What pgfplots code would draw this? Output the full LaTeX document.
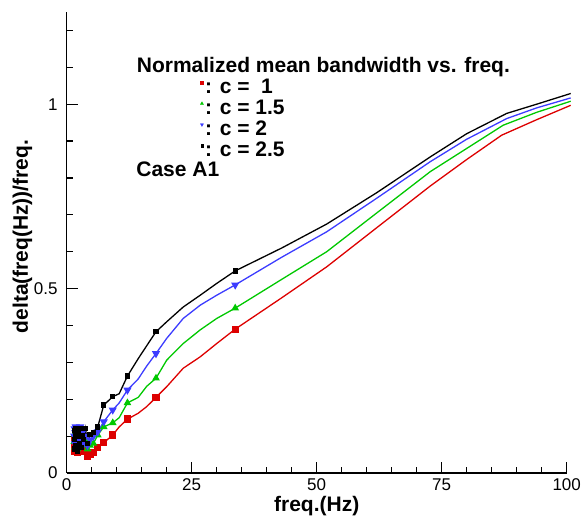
\documentclass[border=0pt]{standalone}
\usepackage{fontspec}
\setmainfont{Liberation Sans}
\usepackage{pgfplots}
\usepackage{pgfplotstable}
\pgfplotsset{compat=1.18}
\definecolor{cred}{RGB}{221,0,0}
\definecolor{cgreen}{RGB}{0,200,0}
\definecolor{cblue}{RGB}{60,60,255}

\pgfplotstableread{
x y
1.52 0.07
1.58 0.095
1.65 0.06
1.72 0.085
1.80 0.10
1.89 0.065
1.99 0.08
2.10 0.055
2.22 0.095
2.36 0.09
2.51 0.075
2.69 0.10
2.90 0.065
3.13 0.085
3.41 0.06
3.76 0.07
4.17 0.045
4.67 0.05
5.35 0.055
6.21 0.07
7.41 0.082
9.21 0.103
10.5 0.125
12.15 0.146
14.3 0.162
16.0 0.18
17.86 0.205
20 0.234
23.3 0.284
26.7 0.315
30 0.351
33.7 0.39
43 0.475
52 0.559
62 0.665
72.7 0.778
80 0.85
87 0.916
94 0.958
100.8 0.997
}\cone

\pgfplotstableread{
x y
1.52 0.085
1.58 0.105
1.65 0.07
1.72 0.095
1.80 0.11
1.89 0.075
1.99 0.09
2.10 0.065
2.22 0.105
2.36 0.10
2.51 0.085
2.69 0.11
2.90 0.08
3.13 0.095
3.41 0.075
3.76 0.09
4.17 0.065
4.67 0.075
5.35 0.08
6.21 0.103
7.41 0.125
9.21 0.136
10.5 0.15
12.15 0.19
14.3 0.205
16.0 0.235
17.86 0.257
20 0.306
23.3 0.351
26.7 0.388
30 0.419
33.7 0.447
43 0.525
52 0.60
62 0.705
72.7 0.817
80 0.88
87.3 0.943
94 0.978
100.8 1.008
}\conefive

\pgfplotstableread{
x y
1.52 0.10
1.58 0.12
1.65 0.08
1.72 0.11
1.80 0.125
1.89 0.085
1.99 0.105
2.10 0.075
2.22 0.115
2.36 0.12
2.51 0.10
2.69 0.125
2.90 0.09
3.13 0.11
3.41 0.08
3.76 0.10
4.17 0.075
4.67 0.09
5.35 0.10
6.21 0.112
7.41 0.139
9.21 0.171
10.5 0.19
12.15 0.225
14.3 0.255
16.0 0.29
17.86 0.324
20 0.365
23.3 0.419
26.7 0.455
30 0.482
33.7 0.51
43 0.585
52 0.654
62 0.745
72.7 0.844
80 0.905
88 0.961
94 0.99
100.8 1.017
}\ctwo

\pgfplotstableread{
x y
1.52 0.09
1.58 0.115
1.65 0.065
1.72 0.10
1.80 0.12
1.89 0.075
1.99 0.11
2.10 0.06
2.22 0.10
2.36 0.11
2.51 0.08
2.69 0.12
2.90 0.07
3.13 0.10
3.41 0.09
3.76 0.12
4.17 0.08
4.67 0.105
5.35 0.11
6.21 0.125
7.41 0.184
9.21 0.207
10.5 0.215
12.15 0.263
14.3 0.31
16.0 0.345
17.86 0.383
20 0.41
23.3 0.45
26.7 0.482
30 0.514
33.7 0.548
43 0.61
52 0.675
62 0.76
72.7 0.857
80 0.92
88 0.975
94 1.0
100.8 1.029
}\ctwofive

\begin{document}
\begin{tikzpicture}
\useasboundingbox (-66.7pt,-48pt) rectangle (520.3pt,473pt);
\begin{axis}[
  at={(0,0)}, anchor=south west,
  scale only axis, width=500pt, height=461pt,
  xmin=0, xmax=100, ymin=0, ymax=1.25,
  axis x line*=bottom, axis y line*=left,
  axis line style={line width=1.6pt, -},
  xtick={0,25,50,75,100}, ytick={0,0.5,1},
  minor xtick={5,10,15,20,30,35,40,45,55,60,65,70,80,85,90,95},
  minor ytick={0.1,0.2,0.3,0.4,0.6,0.7,0.8,0.9,1.1,1.2},
  major tick length=11pt, minor tick length=6pt,
  every tick/.style={line width=1.2pt, black},
  tick align=inside,
  /pgf/number format/assume math mode=true,
  ticklabel style={font=\fontsize{17}{17}\selectfont},
  xticklabel style={anchor=base, yshift=-18pt, inner sep=0pt},
  yticklabel style={anchor=east, xshift=-9pt, inner sep=0pt},
  xlabel={freq.(Hz)}, ylabel={delta(freq(Hz))/freq.},
  label style={font=\bfseries\fontsize{21}{21}\selectfont},
  xlabel style={at={(axis description cs:0.5,-0.0825)}, anchor=base, inner sep=0pt},
  ylabel style={at={(axis description cs:-0.0885,0.513)}, anchor=center},
  clip=false,
  legend style={at={(axis cs:26.7,1.074)}, anchor=north west, draw=none, fill=none,
    font=\bfseries\fontsize{21}{21}\selectfont, row sep=0pt, inner sep=0pt,
    nodes={text height=15pt, text depth=3pt, inner sep=1.5pt}},
  legend cell align=left,
  legend image code/.code={\draw[#1] plot coordinates {(3pt,5pt)};},
]
\addlegendimage{only marks, mark=square*, color=cred, mark size=1.4pt}
\addlegendentry{: c =\ \ 1}
\addlegendimage{only marks, mark=triangle*, color=cgreen, mark size=1.8pt}
\addlegendentry{: c = 1.5}
\addlegendimage{only marks, mark=triangle*, color=cblue, mark size=1.8pt, mark options={rotate=180}}
\addlegendentry{: c = 2}
\addlegendimage{only marks, mark=square*, color=black, mark size=1.2pt}
\addlegendentry{: c = 2.5}

\addplot[cred, line width=1.3pt, mark=square*, mark size=3pt,
  mark indices={1,2,3,4,5,6,7,8,9,10,11,12,13,14,15,16,17,18,19,20,21,22,24,27,32}, forget plot] table {\cone};
\addplot[cgreen, line width=1.3pt, mark=triangle*, mark size=3.2pt,
  mark indices={1,2,3,4,5,6,7,8,9,10,11,12,13,14,15,16,17,18,19,20,21,22,24,27,32}, forget plot] table {\conefive};
\addplot[cblue, line width=1.3pt, mark=triangle*, mark size=3.5pt, mark options={rotate=180},
  mark indices={1,2,3,4,5,6,7,8,9,10,11,12,13,14,15,16,17,18,19,20,21,22,24,27,32}, forget plot] table {\ctwo};
\addplot[black, line width=1.3pt, mark=square*, mark size=2pt,
  mark indices={1,2,3,4,5,6,7,8,9,10,11,12,13,14,15,16,17,18,19,20,21,22,24,27,32}, forget plot] table {\ctwofive};

\node[anchor=base west, inner sep=0pt, font=\bfseries\fontsize{21}{21}\selectfont]
  at (axis cs:14.0,1.0867) {Normalized mean bandwidth vs. freq.};
\node[anchor=base west, inner sep=0pt, font=\bfseries\fontsize{21}{21}\selectfont]
  at (axis cs:13.9,0.803) {Case A1};
\end{axis}
\end{tikzpicture}
\end{document}
